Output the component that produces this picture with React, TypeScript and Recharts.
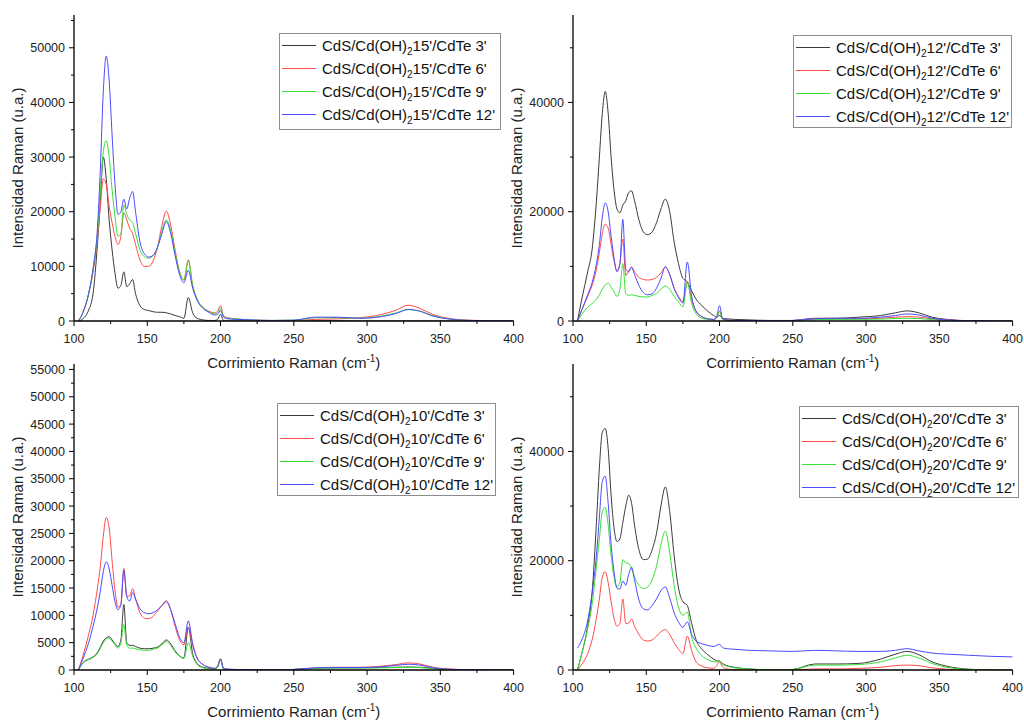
import { LineChart, Line, XAxis, YAxis, Legend } from 'recharts'

// Raman shift (cm-1) sampled where the spectra change
const ramanShift = [103, 106, 110, 113, 116, 118, 120, 122, 124, 126, 128, 130, 132, 134, 136, 138, 140, 142, 145, 148, 151, 154, 157, 160, 163, 166, 169, 172, 175, 178, 181, 184, 188, 192, 196, 198, 200, 202, 205, 210, 220, 235, 250, 265, 280, 295, 310, 320, 328, 336, 345, 355, 370, 385, 400]

// CdS/Cd(OH)2 15'
const cd15_3 = [0, 400, 2000, 5000, 14000, 22000, 30000, 26000, 18500, 13000, 8700, 6000, 6500, 9000, 6300, 6800, 7600, 5000, 2800, 2100, 1900, 1700, 1600, 1600, 1500, 1300, 1000, 800, 500, 4300, 1500, 500, 200, 100, 100, 300, 1200, 100, 0, 0, 0, 0, 0, 50, 50, 0, 0, 0, 0, 0, 0, 0, 0, 0, 0]
const cd15_6 = [0, 1500, 5000, 9000, 15000, 21000, 26000, 25000, 21000, 18000, 15500, 14000, 15500, 19800, 18500, 17000, 16000, 14000, 11200, 10000, 10000, 11000, 13500, 17500, 20100, 17500, 13000, 9000, 7500, 11200, 6500, 4000, 2500, 1800, 1500, 1800, 2800, 1000, 600, 400, 200, 100, 100, 300, 400, 600, 1200, 2000, 2900, 2300, 1200, 500, 150, 50, 0]
const cd15_9 = [0, 1500, 5000, 9500, 16000, 24000, 31000, 33000, 30000, 24000, 19000, 15500, 16000, 21200, 19500, 18500, 18000, 16000, 13000, 11800, 11500, 12000, 13500, 16500, 18500, 16500, 12500, 9000, 7500, 11000, 6500, 4000, 2500, 1700, 1300, 1500, 2300, 800, 500, 400, 200, 100, 150, 600, 600, 500, 900, 1500, 2100, 1800, 1000, 400, 100, 50, 0]
const cd15_12 = [0, 1500, 5000, 9500, 17000, 28000, 42000, 48500, 44000, 34000, 25000, 19500, 20000, 22300, 20500, 22500, 23700, 20000, 14500, 12300, 11700, 12000, 13500, 16000, 18200, 16000, 12000, 8500, 7000, 9300, 6000, 3800, 2300, 1600, 1100, 1200, 1900, 700, 400, 300, 200, 100, 150, 700, 700, 500, 800, 1400, 2100, 1800, 900, 400, 100, 50, 0]

// CdS/Cd(OH)2 12'
const cd12_3 = [0, 4000, 9000, 13000, 22000, 30000, 38000, 42000, 38000, 30000, 24000, 20500, 19800, 21200, 22000, 23500, 23800, 22000, 18500, 16300, 15800, 16300, 18000, 20500, 22300, 20000, 14500, 10500, 7800, 7200, 5500, 4000, 2800, 1800, 1000, 700, 1000, 500, 400, 300, 200, 100, 100, 500, 500, 700, 1000, 1500, 1850, 1500, 700, 300, 50, 0, 0]
const cd12_6 = [0, 2000, 4500, 6500, 9500, 12500, 16000, 17700, 17000, 14000, 11000, 9200, 10500, 15000, 8300, 9200, 9900, 9000, 8000, 7600, 7500, 7600, 8000, 8800, 9900, 8500, 6000, 4500, 3500, 7200, 3800, 1800, 800, 400, 300, 600, 1800, 400, 200, 100, 100, 50, 100, 400, 400, 400, 500, 700, 800, 700, 400, 200, 50, 0, 0]
const cd12_9 = [0, 1200, 2500, 3200, 4000, 4800, 5800, 6600, 6900, 6200, 5300, 4500, 5800, 10500, 5000, 4700, 4800, 4700, 4500, 4400, 4400, 4700, 5000, 5800, 6400, 5800, 4500, 3500, 2600, 7000, 3200, 1300, 500, 300, 200, 600, 1800, 300, 100, 50, 50, 0, 50, 250, 300, 300, 350, 450, 500, 450, 250, 100, 0, 0, 0]
const cd12_12 = [0, 2000, 4800, 7000, 10500, 14000, 19000, 21600, 20000, 15500, 11500, 9000, 10500, 18600, 9500, 9000, 9800, 8500, 6500, 5200, 4800, 5000, 6000, 7800, 9900, 8500, 6000, 4300, 3300, 10800, 4500, 1800, 800, 400, 300, 800, 2800, 500, 200, 100, 100, 50, 100, 400, 500, 500, 700, 1000, 1300, 1100, 500, 200, 50, 0, 0]

// CdS/Cd(OH)2 10'
const cd10_3 = [0, 1300, 2000, 2400, 3200, 4200, 5300, 5900, 6100, 5500, 4800, 4300, 5500, 12000, 5000, 4500, 4500, 4300, 4000, 3900, 3900, 4000, 4200, 4800, 5500, 4800, 3500, 2600, 2200, 7800, 3000, 1200, 500, 300, 200, 600, 2000, 300, 100, 50, 50, 0, 100, 300, 400, 400, 450, 500, 550, 500, 300, 100, 0, 0, 0]
const cd10_6 = [0, 2500, 6500, 10000, 15000, 19000, 24500, 27900, 26000, 20000, 14500, 11500, 12000, 18600, 13500, 13600, 14900, 13000, 10500, 9500, 9400, 9800, 10800, 11800, 12700, 11000, 8000, 5500, 4600, 7900, 4500, 2200, 1000, 500, 300, 700, 2000, 300, 150, 100, 50, 0, 100, 400, 500, 500, 700, 1000, 1300, 1100, 500, 200, 50, 0, 0]
const cd10_9 = [0, 1200, 1900, 2300, 3000, 4000, 5000, 5600, 5800, 5300, 4600, 4000, 5000, 8300, 4500, 4000, 4000, 3900, 3700, 3600, 3600, 3800, 4000, 4600, 5200, 4500, 3300, 2500, 2100, 5000, 2500, 1000, 400, 200, 150, 500, 1800, 200, 100, 50, 50, 0, 100, 300, 350, 350, 400, 450, 500, 450, 250, 100, 0, 0, 0]
const cd10_12 = [0, 2000, 5000, 8000, 11500, 14500, 18000, 19800, 18500, 15500, 12500, 11000, 12000, 18200, 13500, 12600, 14200, 13000, 11200, 10500, 10300, 10500, 11000, 11800, 12500, 11000, 8500, 6000, 5000, 9000, 4800, 2200, 1000, 500, 300, 700, 2000, 300, 150, 100, 50, 0, 100, 400, 450, 450, 600, 850, 1050, 900, 400, 150, 50, 0, 0]

// CdS/Cd(OH)2 20'
const cd20_3 = [0, 3000, 8000, 14000, 27000, 37000, 43500, 44200, 40500, 32000, 26000, 23500, 24000, 27000, 30000, 32000, 30500, 26500, 22000, 20200, 20300, 22000, 25000, 30000, 33500, 29000, 21000, 15000, 12500, 11800, 8500, 5500, 3800, 2800, 2000, 1700, 1600, 1200, 800, 500, 200, 0, 100, 1100, 1100, 1200, 2000, 2900, 3400, 2800, 1500, 700, 150, 0, 0]
const cd20_6 = [0, 1000, 3000, 5500, 9500, 13000, 17000, 18000, 16000, 12500, 9500, 8000, 8500, 13000, 8500, 8600, 9300, 8000, 6500, 5500, 5300, 5500, 6200, 7000, 7400, 6500, 5000, 3800, 3000, 6200, 3500, 1500, 700, 400, 300, 800, 1500, 600, 200, 50, 0, 0, 0, 200, 200, 300, 500, 800, 900, 800, 400, 150, 0, 0, 0]
const cd20_9 = [0, 3000, 7500, 12000, 19000, 24000, 29000, 29800, 26500, 21000, 17000, 15200, 16000, 20200, 19600, 19500, 18500, 17000, 15500, 14900, 15200, 16500, 19000, 23000, 25400, 21500, 15500, 11500, 10000, 10600, 6000, 4000, 2600, 1900, 1500, 1500, 1700, 1000, 700, 400, 200, 0, 100, 900, 900, 1000, 1500, 2200, 2700, 2200, 1200, 500, 100, 0, 0]
const cd20_12 = [4000, 5500, 9000, 14000, 21000, 28000, 34500, 35500, 30500, 23000, 18000, 15000, 14800, 16300, 15500, 17500, 18800, 16500, 12800, 11200, 11000, 11800, 13000, 14500, 15200, 13200, 10500, 8800, 7800, 8800, 6500, 5300, 4800, 4500, 4300, 4500, 4700, 4100, 3900, 3800, 3600, 3500, 3400, 3600, 3500, 3400, 3400, 3600, 3900, 3500, 3100, 2900, 2700, 2500, 2400]

const cdteTimes = ["3'", "6'", "9'", "12'"]
const seriesColors = ['#3a3a3a', '#ff4a4a', '#38e038', '#4a4aff']
const seriesKeys = ['s3', 's6', 's9', 's12']

const xTicks = [100, 125, 150, 175, 200, 225, 250, 275, 300, 325, 350, 375, 400]
const xLabels = [100, 150, 200, 250, 300, 350, 400]

const yTicks10k = [0, 5000, 10000, 15000, 20000, 25000, 30000, 35000, 40000, 45000, 50000, 55000]
const yLabels10k = [0, 10000, 20000, 30000, 40000, 50000]
const yTicks20k = [0, 10000, 20000, 30000, 40000, 50000]
const yLabels20k = [0, 20000, 40000]
const yTicks5k = [0, 2500, 5000, 7500, 10000, 12500, 15000, 17500, 20000, 22500, 25000, 27500, 30000, 32500, 35000, 37500, 40000, 42500, 45000, 47500, 50000, 52500, 55000]
const yLabels5k = [0, 5000, 10000, 15000, 20000, 25000, 30000, 35000, 40000, 45000, 50000, 55000]

const font = '"Liberation Sans", Arial, Helvetica, sans-serif'

const panels = [
  { cure: "15'", series: [cd15_3, cd15_6, cd15_9, cd15_12], left: 0, top: 0, width: 530, right: 16.4, yTicks: yTicks10k, yLabels: yLabels10k, legend: { left: 279, top: 33, width: 222, height: 97 } },
  { cure: "12'", series: [cd12_3, cd12_6, cd12_9, cd12_12], left: 499, top: 0, width: 525, right: 11.4, yTicks: yTicks20k, yLabels: yLabels20k, legend: { left: 294, top: 35, width: 219, height: 93 } },
  { cure: "10'", series: [cd10_3, cd10_6, cd10_9, cd10_12], left: 0, top: 349, width: 530, right: 16.4, yTicks: yTicks5k, yLabels: yLabels5k, legend: { left: 277, top: 54, width: 219, height: 93 } },
  { cure: "20'", series: [cd20_3, cd20_6, cd20_9, cd20_12], left: 499, top: 349, width: 525, right: 11.4, yTicks: yTicks20k, yLabels: yLabels20k, legend: { left: 300, top: 57, width: 220, height: 92 } },
]

function XTick({ x, y, payload }: any) {
  const major = xLabels.includes(payload.value)
  return (
    <g>
      <line x1={x} x2={x} y1={y} y2={y + (major ? 5 : 3)} stroke="#000" strokeWidth={1} />
      {major && <text x={x} y={y + 21.5} textAnchor="middle" fontSize={12.5} fill="#222" fontFamily={font}>{payload.value}</text>}
    </g>
  )
}

const makeYTick = (labels: number[]) => ({ x, y, payload }: any) => {
  const major = labels.includes(payload.value)
  return (
    <g>
      <line x1={x - (major ? 5 : 3)} x2={x} y1={y} y2={y} stroke="#000" strokeWidth={1} />
      {major && <text x={x - 9} y={y + 4.5} textAnchor="end" fontSize={12.5} fill="#222" fontFamily={font}>{payload.value}</text>}
    </g>
  )
}

function XTitle({ viewBox }: any) {
  const cx = viewBox.x + viewBox.width / 2
  return (
    <text x={cx} y={viewBox.y + 47} textAnchor="middle" fontSize={15} fill="#222" fontFamily={font}>
      Corrimiento Raman (cm<tspan dy={-6} fontSize={10}>-1</tspan><tspan dy={6}>)</tspan>
    </text>
  )
}

function YTitle({ viewBox }: any) {
  const x = viewBox.x + 23
  const cy = viewBox.y + viewBox.height / 2
  return (
    <text x={x} y={cy} transform={`rotate(-90, ${x}, ${cy})`} textAnchor="middle" fontSize={15} fill="#222" fontFamily={font}>
      Intensidad Raman (u.a.)
    </text>
  )
}

function LegendBox({ cure, box }: { cure: string; box: { width: number; height: number } }) {
  return (
    <div style={{ width: box.width, height: box.height, border: '1px solid #8c8c8c', background: '#fff', boxSizing: 'border-box', fontFamily: font }}>
      {cdteTimes.map((t, i) => (
        <div key={t} style={{ display: 'flex', alignItems: 'center', height: 23 }}>
          <span style={{ display: 'block', width: 34, height: 0, borderTop: `1px solid ${seriesColors[i]}`, marginLeft: 2, marginRight: 6 }} />
          <span style={{ fontSize: 15, color: '#111', whiteSpace: 'nowrap', lineHeight: '18px' }}>
            CdS/Cd(OH)<sub style={{ fontSize: 10, lineHeight: 0, verticalAlign: -4 }}>2</sub>{cure}/CdTe {t}
          </span>
        </div>
      ))}
    </div>
  )
}

function RamanPanel({ p }: { p: typeof panels[number] }) {
  const rows = ramanShift.map((x, i) => {
    const row: Record<string, number> = { x }
    seriesKeys.forEach((k, j) => { row[k] = p.series[j][i] })
    return row
  })
  return (
    <div style={{ position: 'absolute', left: p.left, top: p.top }}>
      <LineChart width={p.width} height={372} data={rows} margin={{ top: 15, right: p.right, bottom: 0, left: 0 }}>
        <XAxis
          dataKey="x" type="number" domain={[100, 400]} ticks={xTicks} allowDataOverflow
          height={51} tickSize={0} tickMargin={0} tickLine={false} interval={0}
          axisLine={{ stroke: '#000', strokeWidth: 1.3 }} tick={<XTick />}
          label={(props: any) => <XTitle {...props} />}
        />
        <YAxis
          type="number" domain={[0, 56000]} ticks={p.yTicks} allowDataOverflow
          width={74} tickSize={0} tickMargin={0} tickLine={false} interval={0}
          axisLine={{ stroke: '#000', strokeWidth: 1.3 }} tick={makeYTick(p.yLabels)}
          label={(props: any) => <YTitle {...props} />}
        />
        <Legend
          layout="vertical" align="center" verticalAlign="middle"
          wrapperStyle={{ left: p.legend.left, top: p.legend.top, width: p.legend.width, height: p.legend.height }}
          content={() => <LegendBox cure={p.cure} box={p.legend} />}
        />
        {seriesKeys.map((k, j) => (
          <Line key={k} type="monotone" dataKey={k} name={`CdS/Cd(OH)2${p.cure}/CdTe ${cdteTimes[j]}`}
            stroke={seriesColors[j]} strokeWidth={1} dot={false} isAnimationActive={false} />
        ))}
      </LineChart>
    </div>
  )
}

export default function App() {
  return (
    <div style={{ position: 'absolute', left: 0, top: 0, width: 1024, height: 721, overflow: 'hidden', background: '#fff', fontFamily: font }}>
      {panels.map((p) => <RamanPanel key={p.cure} p={p} />)}
    </div>
  )
}
